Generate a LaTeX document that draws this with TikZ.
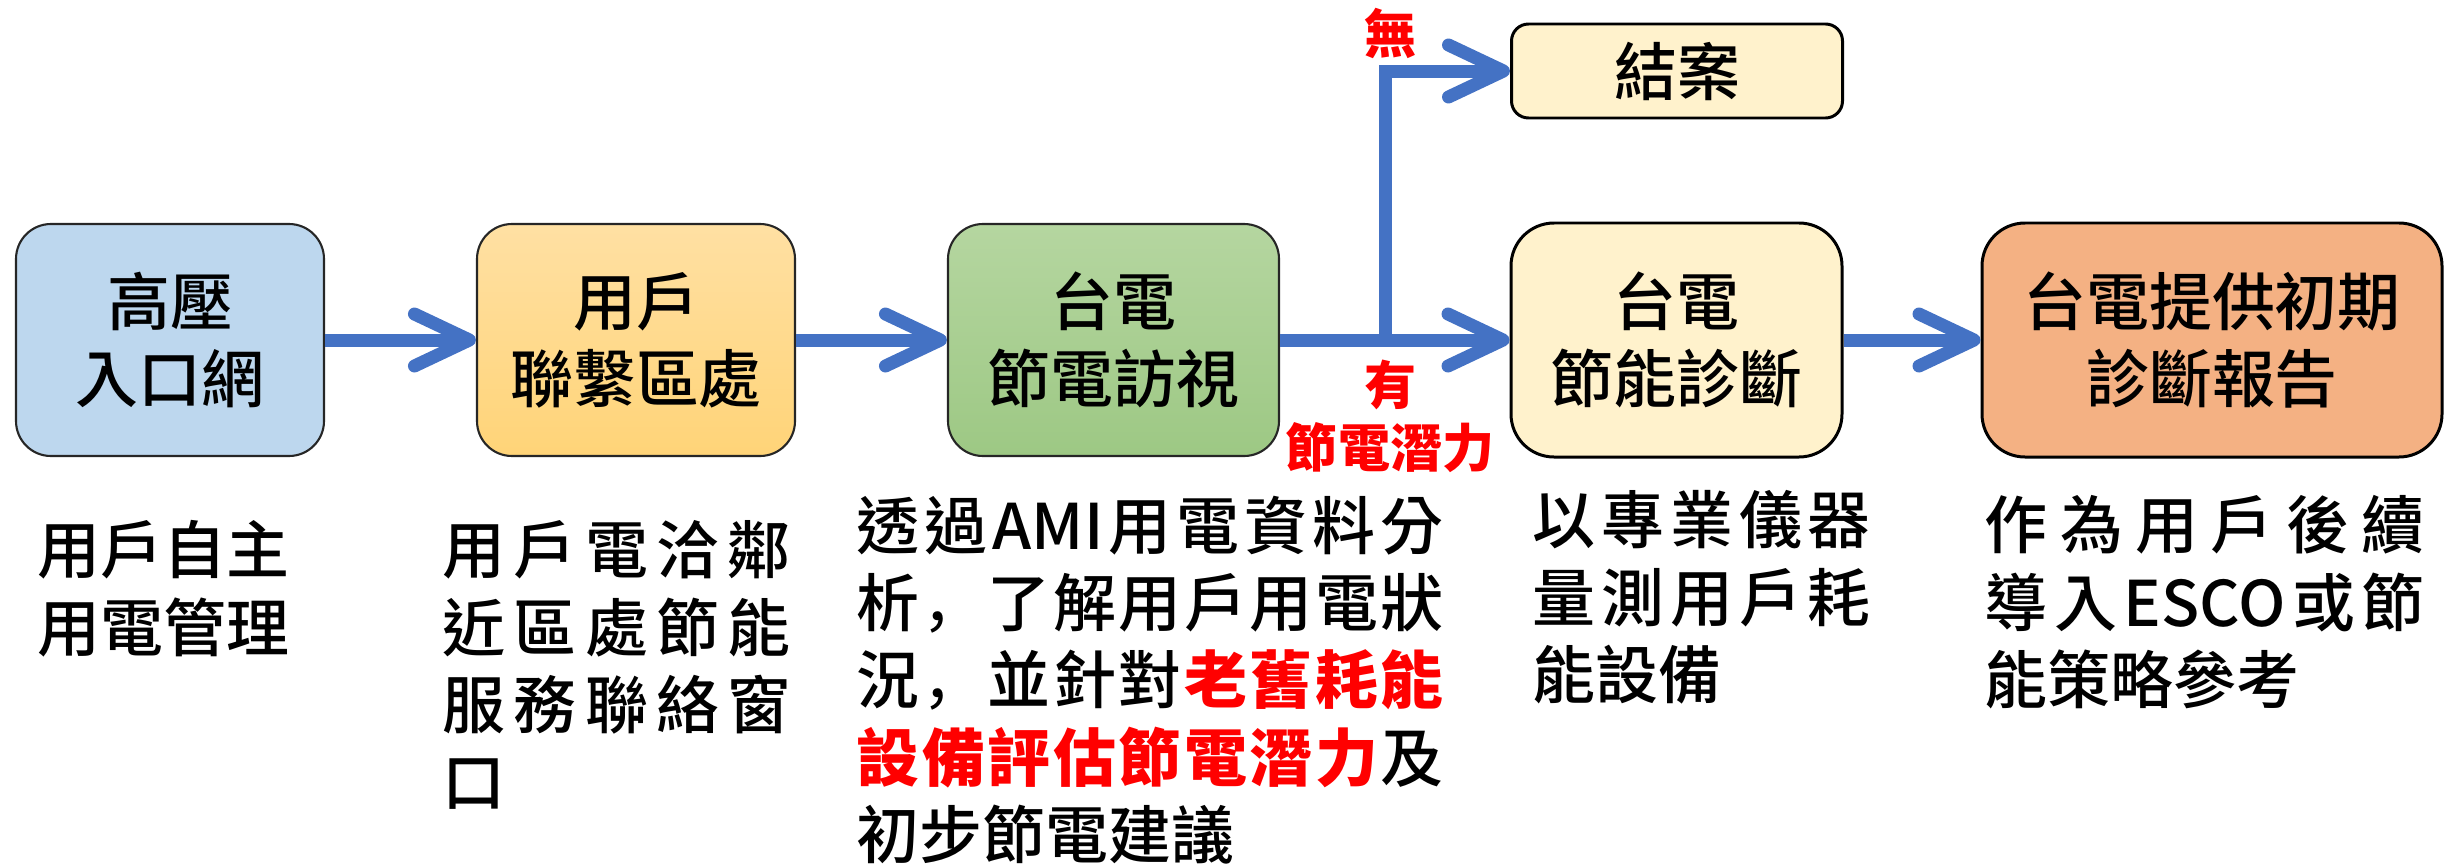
\documentclass[tikz,border=0pt]{standalone}
\usepackage{fontspec}
\IfFontExistsTF{Noto Sans CJK TC Medium}
	{\setmainfont{Noto Sans CJK TC Medium}}
	{\setmainfont{Noto Sans CJK TC}}
\newfontfamily\heavyfont{Noto Sans CJK TC}
\newfontfamily\scfont{Noto Sans CJK SC}
\usetikzlibrary{arrows.meta,positioning}
\definecolor{flowblue}{HTML}{4472C4}
\definecolor{skyfill}{HTML}{BDD7EE}
\definecolor{sandtop}{HTML}{FFE0A3}
\definecolor{sandbot}{HTML}{FFD478}
\definecolor{leaftop}{HTML}{B5D6A0}
\definecolor{leafbot}{HTML}{9DC884}
\definecolor{creamfill}{HTML}{FFF2CC}
\definecolor{peachfill}{HTML}{F4B183}
\newcommand\bigfont{\fontsize{17.9pt}{22pt}\selectfont}
\newcommand\tagfont{\fontsize{14.8pt}{17.9pt}\selectfont\heavyfont\bfseries}
\newcommand\jline[2]{\hbox to #1{#2}}
\newcommand\gp{\hfil}
\newcommand\hot[1]{\textcolor{red}{\heavyfont\bfseries #1}}
\begin{document}
\begin{tikzpicture}[line join=miter,font=\bigfont,
	box/.style={draw=black!85,line width=0.6pt,rounded corners=0.35cm,inner sep=0pt,minimum height=2.32cm,align=center},
	endbox/.style={draw=black,line width=0.85pt,rounded corners=0.43cm,fill=creamfill,inner sep=0pt,minimum height=2.34cm,align=center},
	note/.style={anchor=north west,inner sep=0pt,align=left},
	tag/.style={text=red,font=\tagfont,inner sep=0pt,align=center},
	flow/.style={draw=flowblue,line width=0.13cm,-{Straight Barb[length=0.55cm,width=0.52cm,round]}}]
	\useasboundingbox (0,0) rectangle (24.45,8.65);
	% steps
	\node[box,fill=skyfill,minimum width=3.08cm] (b1) at (1.70,5.25) {高壓\\入口網};
	\node[box,top color=sandtop,bottom color=sandbot,minimum width=3.18cm] (b2) at (6.36,5.25) {用戶\\聯繫區處};
	\node[box,top color=leaftop,bottom color=leafbot,minimum width=3.31cm] (b3) at (11.135,5.25) {台電\\節電訪視};
	\node[endbox,minimum width=3.31cm] (b4) at (16.765,5.25) {台電\\節能診斷};
	\node[endbox,fill=peachfill,minimum width=4.60cm] (b5) at (22.12,5.25) {台電提供初期\\診斷報告};
	\node[endbox,rounded corners=0.17cm,minimum width=3.31cm,minimum height=0.94cm] (b0) at (16.77,7.94) {結案};
	% arrows
	\coordinate (fork) at (13.85,5.25);
	\draw[flow] (b1) -- (b2);
	\draw[flow] (b2) -- (b3);
	\draw[flow] (b3) -- (b4);
	\draw[flow] (fork) |- (b0);
	\draw[flow] (b4) -- (b5);
	\node[tag] (no) at (13.90,8.32) {無};
	\node[tag] (yes) at (13.90,4.49) {有\\節電潛力};
	% notes
	\node[note] (t1) at (0.37,3.45) {用戶自主\\用電管理};
	\node[note] (t2) at (4.42,3.45) {\jline{3.48cm}{用\gp 戶\gp 電\gp 洽\gp 鄰}\\
		\jline{3.48cm}{近\gp 區\gp 處\gp 節\gp 能}\\
		\jline{3.48cm}{服\gp 務\gp 聯\gp 絡\gp 窗}\\口};
	\node[note] (t3) at (8.56,3.70) {\jline{5.87cm}{透\gp 過\gp AMI\gp 用\gp 電\gp 資\gp 料\gp 分}\\
		\jline{5.87cm}{析\gp {\scfont ，}\gp 了\gp 解\gp 用\gp 戶\gp 用\gp 電\gp 狀}\\
		\jline{5.87cm}{況\gp {\scfont ，}\gp 並\gp 針\gp 對\gp \hot{老}\gp \hot{舊}\gp \hot{耗}\gp \hot{能}}\\
		\jline{5.87cm}{\hot{設}\gp \hot{備}\gp \hot{評}\gp \hot{估}\gp \hot{節}\gp \hot{電}\gp \hot{潛}\gp \hot{力}\gp 及}\\
		初步節電建議};
	\node[note] (t4) at (15.32,3.75) {\jline{3.38cm}{以\gp 專\gp 業\gp 儀\gp 器}\\
		\jline{3.38cm}{量\gp 測\gp 用\gp 戶\gp 耗}\\能設備};
	\node[note] (t5) at (19.84,3.70) {\jline{4.40cm}{作\gp 為\gp 用\gp 戶\gp 後\gp 續}\\
		\jline{4.40cm}{導\gp 入\gp ESCO\gp 或\gp 節}\\能策略參考};
\end{tikzpicture}
\end{document}
